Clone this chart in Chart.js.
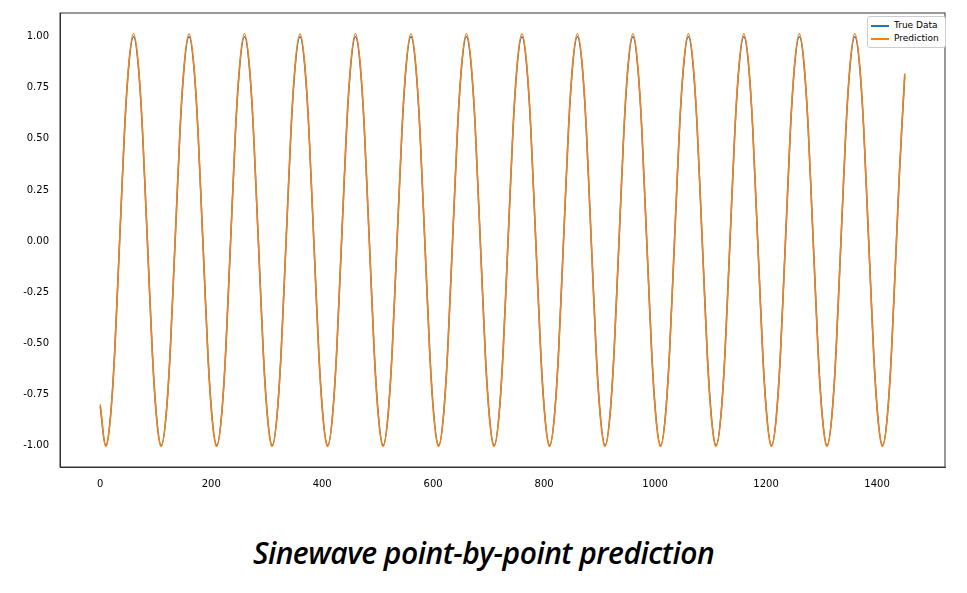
<!DOCTYPE html>
<html><head><meta charset="utf-8">
<script src="https://cdn.jsdelivr.net/npm/chart.js@4/dist/chart.umd.min.js"></script>
<style>
body{margin:0;background:#fff;width:967px;height:593px;overflow:hidden;position:relative;font-family:"DejaVu Sans",sans-serif}
#wrap{position:absolute;left:0;top:0;width:967px;height:500px}
#legend{position:absolute;left:867px;top:16px;width:74px;border:1px solid #ccc;border-radius:3px;background:#fff;font-size:9px;padding:2px 0 2px 3px;line-height:13px}
#legend span{display:inline-block;width:18px;height:2px;vertical-align:middle;margin-right:5px}
#title{position:absolute;left:0;width:967px;top:532px;text-align:center;font-family:"Open Sans","Noto Sans",sans-serif;font-style:italic;font-weight:600;font-size:30px;letter-spacing:-0.5px}
</style></head><body>
<div id="wrap"><canvas id="c"></canvas></div>
<div id="legend"><div><span style="background:#1f77b4"></span>True Data</div><div><span style="background:#ff7f0e"></span>Prediction</div></div>
<div id="title">Sinewave point-by-point prediction</div>
<script>
const xTicks=[0,200,400,600,800,1000,1200,1400];
const yTicks=[-1.00,-0.75,-0.50,-0.25,0.00,0.25,0.50,0.75,1.00];
const sampleX=[0,10,20,30,40,50,60,70,80,90,100,110,120,130,140,150,160,170,180,190,200,210,220,230,240,250,260,270,280,290,300,310,320,330,340,350,360,370,380,390,400,410,420,430,440,450,460,470,480,490,500,510,520,530,540,550,560,570,580,590,600,610,620,630,640,650,660,670,680,690,700,710,720,730,740,750,760,770,780,790,800,810,820,830,840,850,860,870,880,890,900,910,920,930,940,950,960,970,980,990,1000,1010,1020,1030,1040,1050,1060,1070,1080,1090,1100,1110,1120,1130,1140,1150,1160,1170,1180,1190,1200,1210,1220,1230,1240,1250,1260,1270,1280,1290,1300,1310,1320,1330,1340,1350,1360,1370,1380,1390,1400,1410,1420,1430,1440,1450];
const trueData=[
-0.81,-1,-0.81,-0.31,0.31,0.81,1,0.81,0.31,-0.31,
-0.81,-1,-0.81,-0.31,0.31,0.81,1,0.81,0.31,-0.31,
-0.81,-1,-0.81,-0.31,0.31,0.81,1,0.81,0.31,-0.31,
-0.81,-1,-0.81,-0.31,0.31,0.81,1,0.81,0.31,-0.31,
-0.81,-1,-0.81,-0.31,0.31,0.81,1,0.81,0.31,-0.31,
-0.81,-1,-0.81,-0.31,0.31,0.81,1,0.81,0.31,-0.31,
-0.81,-1,-0.81,-0.31,0.31,0.81,1,0.81,0.31,-0.31,
-0.81,-1,-0.81,-0.31,0.31,0.81,1,0.81,0.31,-0.31,
-0.81,-1,-0.81,-0.31,0.31,0.81,1,0.81,0.31,-0.31,
-0.81,-1,-0.81,-0.31,0.31,0.81,1,0.81,0.31,-0.31,
-0.81,-1,-0.81,-0.31,0.31,0.81,1,0.81,0.31,-0.31,
-0.81,-1,-0.81,-0.31,0.31,0.81,1,0.81,0.31,-0.31,
-0.81,-1,-0.81,-0.31,0.31,0.81,1,0.81,0.31,-0.31,
-0.81,-1,-0.81,-0.31,0.31,0.81,1,0.81,0.31,-0.31,
-0.81,-1,-0.81,-0.31,0.31,0.81];
const predData=[
-0.80,-1.005,-0.81,-0.31,0.32,0.82,1.015,0.82,0.31,-0.32,
-0.82,-1.005,-0.81,-0.31,0.32,0.82,1.015,0.82,0.31,-0.32,
-0.82,-1.005,-0.81,-0.31,0.32,0.82,1.015,0.82,0.31,-0.32,
-0.82,-1.005,-0.81,-0.31,0.32,0.82,1.015,0.82,0.31,-0.32,
-0.82,-1.005,-0.81,-0.31,0.32,0.82,1.015,0.82,0.31,-0.32,
-0.82,-1.005,-0.81,-0.31,0.32,0.82,1.015,0.82,0.31,-0.32,
-0.82,-1.005,-0.81,-0.31,0.32,0.82,1.015,0.82,0.31,-0.32,
-0.82,-1.005,-0.81,-0.31,0.32,0.82,1.015,0.82,0.31,-0.32,
-0.82,-1.005,-0.81,-0.31,0.32,0.82,1.015,0.82,0.31,-0.32,
-0.82,-1.005,-0.81,-0.31,0.32,0.82,1.015,0.82,0.31,-0.32,
-0.82,-1.005,-0.81,-0.31,0.32,0.82,1.015,0.82,0.31,-0.32,
-0.82,-1.005,-0.81,-0.31,0.32,0.82,1.015,0.82,0.31,-0.32,
-0.82,-1.005,-0.81,-0.31,0.32,0.82,1.015,0.82,0.31,-0.32,
-0.82,-1.005,-0.81,-0.31,0.32,0.82,1.015,0.82,0.31,-0.32,
-0.82,-1.005,-0.81,-0.31,0.32,0.82];
const pts=a=>a.map((v,i)=>({x:sampleX[i],y:v}));
new Chart(document.getElementById('c'),{
type:'line',
data:{datasets:[
{label:'True Data',data:pts(trueData),borderColor:'#1f77b4',borderWidth:1.5,pointRadius:0,tension:0.4,order:2},
{label:'Prediction',data:pts(predData),borderColor:'#ff7f0e',borderWidth:1.5,pointRadius:0,tension:0.4,order:1}
]},
options:{responsive:true,maintainAspectRatio:false,animation:false,
layout:{padding:{top:13,right:22,left:0,bottom:0}},
plugins:{legend:{display:false},tooltip:{enabled:false}},
scales:{
x:{type:'linear',min:-72.5,max:1522.5,grid:{display:false},border:{color:'#333'},
 afterBuildTicks:s=>{s.ticks=xTicks.map(v=>({value:v}));},afterFit:s=>{s.height=33;},
 ticks:{color:'#000',font:{family:'DejaVu Sans',size:10},maxRotation:0,callback:v=>v}},
y:{min:-1.106,max:1.116,grid:{display:false},border:{color:'#333'},
 afterBuildTicks:s=>{s.ticks=yTicks.map(v=>({value:v}));},afterFit:s=>{s.width=60;},
 ticks:{color:'#000',font:{family:'DejaVu Sans',size:10},callback:v=>v.toFixed(2)}}
}},
plugins:[{id:'frame',afterDraw(c){const a=c.chartArea,x=c.ctx;x.save();x.strokeStyle='#333';x.lineWidth=1;x.strokeRect(a.left,a.top,a.right-a.left,a.bottom-a.top);x.restore();}}]
});
</script></body></html>
